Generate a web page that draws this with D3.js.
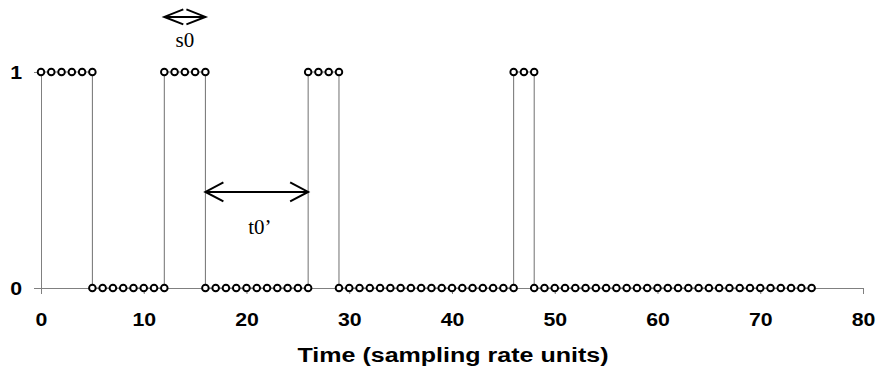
<!DOCTYPE html>
<html>
<head>
<meta charset="utf-8">
<script src="https://cdn.jsdelivr.net/npm/d3@7"></script>
<style>
  body { margin: 0; background: #fff; }
  svg { display: block; }
</style>
</head>
<body>
<div id="chart"></div>
<script>
// sampled binary signal: time index and level (duplicate times mark the edges)
const times = [
  0, 1, 2, 3, 4, 5,
  5, 6, 7, 8, 9, 10, 11, 12,
  12, 13, 14, 15, 16,
  16, 17, 18, 19, 20, 21, 22, 23, 24, 25, 26,
  26, 27, 28, 29,
  29, 30, 31, 32, 33, 34, 35, 36, 37, 38, 39, 40, 41, 42, 43, 44, 45, 46,
  46, 47, 48,
  48, 49, 50, 51, 52, 53, 54, 55, 56, 57, 58, 59, 60, 61, 62, 63, 64, 65, 66, 67, 68, 69, 70, 71, 72, 73, 74, 75
];
const levels = [
  1, 1, 1, 1, 1, 1,
  0, 0, 0, 0, 0, 0, 0, 0,
  1, 1, 1, 1, 1,
  0, 0, 0, 0, 0, 0, 0, 0, 0, 0, 0,
  1, 1, 1, 1,
  0, 0, 0, 0, 0, 0, 0, 0, 0, 0, 0, 0, 0, 0, 0, 0, 0, 0,
  1, 1, 1,
  0, 0, 0, 0, 0, 0, 0, 0, 0, 0, 0, 0, 0, 0, 0, 0, 0, 0, 0, 0, 0, 0, 0, 0, 0, 0, 0, 0
];

const xTicks = [0, 10, 20, 30, 40, 50, 60, 70, 80];
const yTicks = [0, 1];
const xTitle = "Time (sampling rate units)";

// annotations (data units)
const arrowFrom = [12, 16];
const arrowTo = [16, 26];
const arrowLevel = [1.255, 0.445];
const noteText = ["s0", "t0\u2019"];
const noteX = [14, 21.3];
const noteLevel = [1.116, 0.25];

// --- Chart dimensions ---
const W = 876, H = 373;
const margin = { top: 72, right: 13, bottom: 85, left: 41 };
const width = W - margin.left - margin.right;
const height = H - margin.top - margin.bottom;

const svg = d3.select("#chart")
  .append("svg")
  .attr("width", W)
  .attr("height", H)
  .append("g")
  .attr("transform", `translate(${margin.left},${margin.top})`);

const data = times.map((t, i) => ({ t: t, v: levels[i] }));

// --- Scales ---
const x = d3.scaleLinear().domain([0, 80]).range([0, width]);
const y = d3.scaleLinear().domain([0, 1]).range([height, 0]);

const sans = "'Liberation Sans', Arial, Helvetica, sans-serif";
const serif = "'Liberation Serif', 'Times New Roman', Times, serif";
const grey = "#808080";

// --- Axes ---
const xAxis = svg.append("g")
  .attr("transform", `translate(0,${height})`)
  .call(d3.axisBottom(x).tickValues(xTicks).tickSize(6).tickSizeOuter(0).tickPadding(19));

const yAxis = svg.append("g")
  .call(d3.axisLeft(y).tickValues(yTicks).tickFormat(d3.format("d"))
    .tickSize(7).tickSizeOuter(0).tickPadding(9));

[xAxis, yAxis].forEach(ax => {
  ax.selectAll("path, line").attr("stroke", grey).attr("stroke-width", 1);
  ax.selectAll("text")
    .attr("fill", "#000")
    .style("font-family", sans)
    .style("font-size", "19px")
    .style("font-weight", "bold");
});
xAxis.selectAll("text").attr("transform", "scale(1.12,1)");
yAxis.selectAll("text").attr("x", -17).attr("transform", "scale(1.12,1)");

// --- Axis title ---
svg.append("text")
  .attr("x", width / 2 + 1)
  .attr("y", height + 74)
  .attr("text-anchor", "middle")
  .attr("textLength", 311)
  .attr("lengthAdjust", "spacingAndGlyphs")
  .style("font-family", sans)
  .style("font-size", "20px")
  .style("font-weight", "bold")
  .text(xTitle);

// --- Signal line ---
svg.append("path")
  .datum(data)
  .attr("fill", "none")
  .attr("stroke", "#707070")
  .attr("stroke-width", 1)
  .attr("d", d3.line().x(d => x(d.t)).y(d => y(d.v)));

// --- Sample markers ---
svg.selectAll("circle.pt")
  .data(data)
  .enter()
  .append("circle")
  .attr("class", "pt")
  .attr("cx", d => x(d.t))
  .attr("cy", d => y(d.v))
  .attr("r", 3.3)
  .attr("fill", "#fff")
  .attr("stroke", "#000")
  .attr("stroke-width", 1.9);

// --- Double arrows ---
const heads = [{ len: 19, half: 7.5 }, { len: 18, half: 9.5 }];
arrowFrom.forEach((a, i) => {
  const x0 = x(a), x1 = x(arrowTo[i]), yy = y(arrowLevel[i]);
  const h = heads[i];
  const g = svg.append("g")
    .attr("fill", "none")
    .attr("stroke", "#000")
    .attr("stroke-width", 2);
  g.append("line").attr("x1", x0).attr("x2", x1).attr("y1", yy).attr("y2", yy);
  g.append("path").attr("d", `M${x0 + h.len},${yy - h.half}L${x0},${yy}L${x0 + h.len},${yy + h.half}`);
  g.append("path").attr("d", `M${x1 - h.len},${yy - h.half}L${x1},${yy}L${x1 - h.len},${yy + h.half}`);
});

// --- Labels ---
noteText.forEach((s, i) => {
  svg.append("text")
    .attr("x", x(noteX[i]))
    .attr("y", y(noteLevel[i]))
    .attr("text-anchor", "middle")
    .style("font-family", serif)
    .style("font-size", "21px")
    .text(s);
});
</script>
</body>
</html>
